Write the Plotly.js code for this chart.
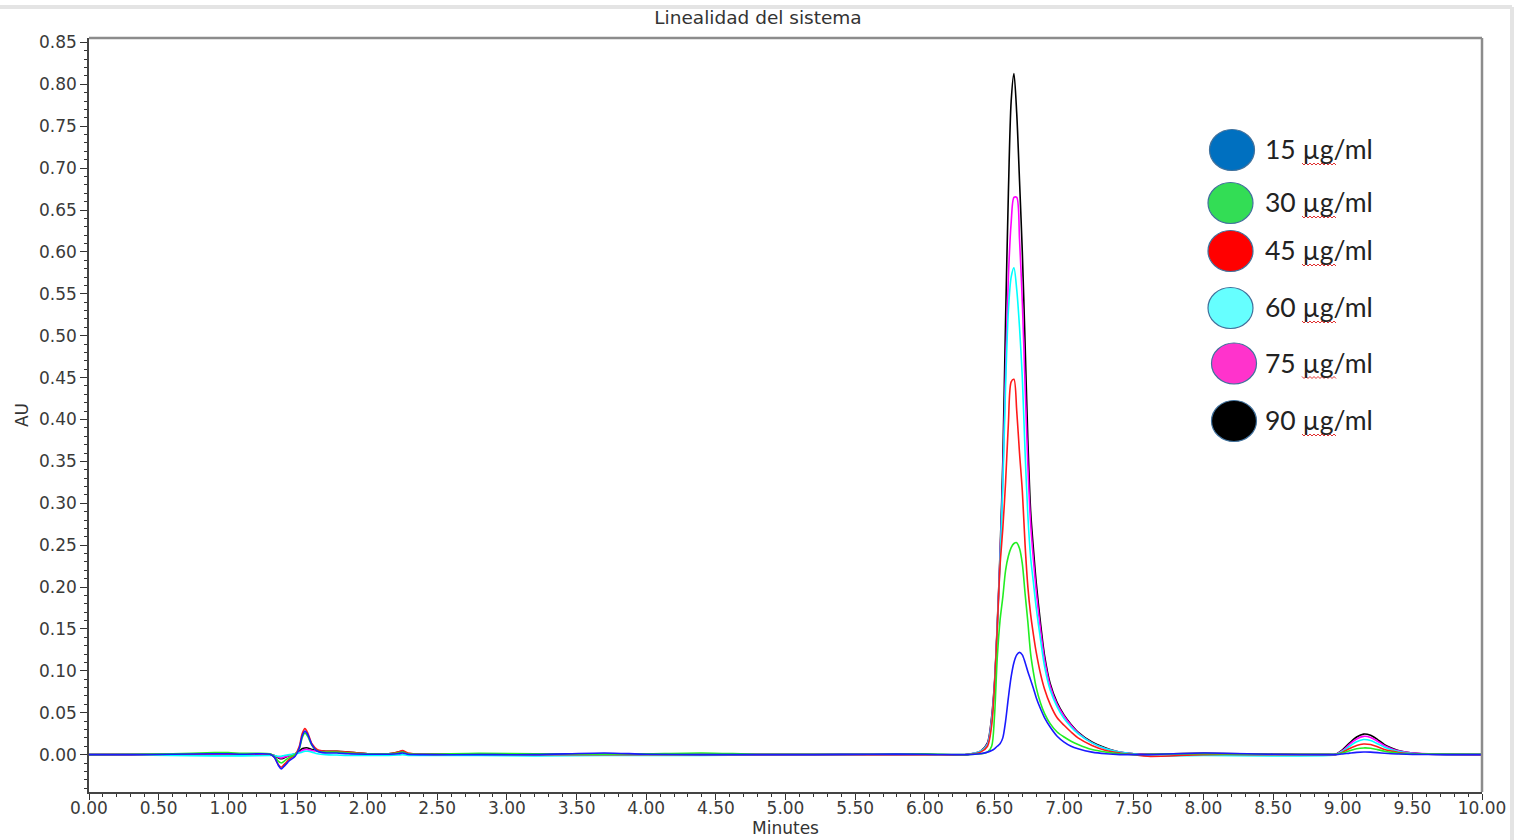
<!DOCTYPE html>
<html>
<head>
<meta charset="utf-8">
<script src="https://cdn.plot.ly/plotly-3.0.1.min.js"></script>
<style>
html,body{margin:0;padding:0;background:#fff;}
#chart{width:1527px;height:840px;}
</style>
</head>
<body>
<div id="chart"></div>
<script>
// ---- Data ----
const time = [
  0, 0.3, 0.6, 0.9, 1.0, 1.1, 1.3, 1.33, 1.36, 1.38, 1.40, 1.44, 1.48, 1.51, 1.53, 1.55, 1.57, 1.60, 1.64, 1.70, 1.78, 1.86, 2.0, 2.15, 2.22, 2.25, 2.29, 2.4, 2.8, 3.2, 3.7, 4.0, 4.4, 4.8, 5.2, 5.6, 6.0,
  6.30, 6.40, 6.45, 6.48, 6.50, 6.52, 6.54, 6.56, 6.58, 6.60, 6.62, 6.64, 6.66, 6.68, 6.70, 6.72, 6.74, 6.76, 6.78, 6.80, 6.83, 6.86, 6.90, 6.95, 7.00, 7.05, 7.10, 7.20, 7.30, 7.40, 7.50,
  7.6, 8.0, 8.5, 8.90, 8.95, 9.00, 9.05, 9.10, 9.15, 9.20, 9.25, 9.30, 9.35, 9.40, 9.50, 9.70, 10.0
];

const au15 = [
  0, 0, 0.0005, 0.001, 0.001, 0.0005, 0.0005, -0.003, -0.013, -0.017, -0.014, -0.007, -0.002, 0.008, 0.022, 0.028, 0.024, 0.012, 0.004, 0.002, 0.002, 0.001, 0.0005, 0.0005, 0.001, 0.002, 0.0005, 0, 0, 0, 0.002, 0.0005, 0, 0, 0, 0.0005, 0.0005,
  0, 0.001, 0.003, 0.005, 0.007, 0.010, 0.013, 0.020, 0.040, 0.068, 0.093, 0.110, 0.119, 0.122, 0.119, 0.110, 0.099, 0.089, 0.079, 0.068, 0.055, 0.044, 0.033, 0.022, 0.015, 0.010, 0.007, 0.003, 0.001, 0, 0,
  0, 0.002, 0.0005, 0, 0, 0.0008, 0.0018, 0.0027, 0.0031, 0.003, 0.0024, 0.0016, 0.001, 0.0007, 0.0003, 0, 0
];

const au30 = [
  0, 0.0005, 0.001, 0.0025, 0.0025, 0.0015, 0.001, -0.002, -0.008, -0.010, -0.008, -0.003, 0.000, 0.007, 0.020, 0.026, 0.022, 0.011, 0.004, 0.003, 0.003, 0.002, 0.001, 0.001, 0.002, 0.003, 0.001, 0.0005, 0.0015, 0.001, 0.0005, 0.001, 0.002, 0.0005, 0.0005, 0.0005, 0.001,
  0, 0.001, 0.003, 0.010, 0.045, 0.115, 0.160, 0.188, 0.220, 0.237, 0.247, 0.252, 0.253, 0.246, 0.228, 0.192, 0.158, 0.120, 0.098, 0.080, 0.062, 0.049, 0.037, 0.027, 0.021, 0.016, 0.012, 0.006, 0.003, 0.001, 0,
  0.0005, 0.001, 0.0005, 0.0005, 0.0005, 0.002, 0.0046, 0.007, 0.008, 0.0076, 0.006, 0.004, 0.0027, 0.0017, 0.001, 0.0008, 0.0005
];

const au45 = [
  0, 0, 0.0005, 0.001, 0.001, 0.0005, 0.0005, -0.003, -0.012, -0.015, -0.012, -0.005, 0.000, 0.010, 0.025, 0.031, 0.026, 0.013, 0.006, 0.004, 0.004, 0.003, 0.001, 0.001, 0.003, 0.005, 0.002, 0.0005, 0.0005, 0, 0, 0, 0, 0, 0, 0, 0,
  0, 0.003, 0.010, 0.035, 0.080, 0.150, 0.225, 0.270, 0.325, 0.395, 0.445, 0.448, 0.410, 0.360, 0.315, 0.250, 0.200, 0.167, 0.143, 0.122, 0.097, 0.078, 0.060, 0.044, 0.035, 0.027, 0.020, 0.011, 0.005, 0.002, 0,
  -0.002, 0, 0, 0, 0, 0.003, 0.0073, 0.011, 0.0127, 0.012, 0.0094, 0.0062, 0.0042, 0.0026, 0.001, 0.0003, 0
];

const au60 = [
  0, -0.0005, -0.001, -0.0015, -0.0015, -0.0015, -0.001, -0.001, -0.002, -0.002, -0.001, 0.000, 0.001, 0.002, 0.003, 0.004, 0.004, 0.003, 0.001, 0.000, -0.0005, -0.001, -0.001, -0.001, -0.0005, 0.000, -0.001, -0.001, -0.001, -0.0015, -0.001, -0.001, -0.001, -0.0005, -0.0005, 0, 0,
  0, 0.004, 0.012, 0.040, 0.080, 0.150, 0.230, 0.320, 0.440, 0.530, 0.570, 0.581, 0.555, 0.510, 0.450, 0.360, 0.285, 0.235, 0.205, 0.175, 0.138, 0.105, 0.077, 0.057, 0.043, 0.033, 0.025, 0.014, 0.007, 0.003, 0.001,
  -0.0015, -0.001, -0.0015, -0.001, 0, 0.004, 0.010, 0.0153, 0.018, 0.0168, 0.013, 0.0088, 0.0058, 0.0036, 0.0014, 0.0003, 0
];

const au75 = [
  0, 0, 0, 0.0005, 0.0005, 0.0005, 0, -0.001, -0.003, -0.004, -0.003, -0.001, 0.001, 0.003, 0.005, 0.006, 0.006, 0.005, 0.004, 0.003, 0.003, 0.002, 0.001, 0.001, 0.002, 0.003, 0.001, 0, 0, 0, 0, 0, 0, 0, 0, 0, 0,
  0, 0.004, 0.013, 0.042, 0.082, 0.152, 0.235, 0.330, 0.460, 0.570, 0.635, 0.665, 0.665, 0.615, 0.540, 0.440, 0.345, 0.275, 0.232, 0.195, 0.150, 0.113, 0.082, 0.060, 0.046, 0.035, 0.026, 0.014, 0.007, 0.003, 0.001,
  0.0005, 0.001, 0.0005, 0, 0.0005, 0.005, 0.0125, 0.0187, 0.0218, 0.0205, 0.016, 0.0107, 0.007, 0.0045, 0.0018, 0.0005, 0
];

const au90 = [
  0, 0, 0, 0.0005, 0.0005, 0.0005, 0.0005, -0.001, -0.004, -0.005, -0.004, -0.001, 0.001, 0.004, 0.007, 0.008, 0.008, 0.006, 0.005, 0.004, 0.004, 0.003, 0.001, 0.001, 0.003, 0.004, 0.001, 0.0005, 0.0005, 0, 0.0005, 0, 0, 0, 0, 0, 0,
  0, 0.004, 0.014, 0.045, 0.085, 0.155, 0.240, 0.350, 0.520, 0.670, 0.780, 0.813, 0.765, 0.685, 0.600, 0.490, 0.375, 0.290, 0.245, 0.205, 0.158, 0.118, 0.085, 0.062, 0.047, 0.036, 0.027, 0.015, 0.008, 0.003, 0.001,
  0.0005, 0.0015, 0.0005, 0, 0.0005, 0.006, 0.014, 0.021, 0.0245, 0.023, 0.018, 0.012, 0.008, 0.005, 0.002, 0.0005, 0
];

const seriesNames = ['15 µg/ml', '30 µg/ml', '45 µg/ml', '60 µg/ml', '75 µg/ml', '90 µg/ml'];
const seriesValues = [au15, au30, au45, au60, au75, au90];
const lineColors = ['#1a1aff', '#22ee22', '#ff1a1a', '#00ffff', '#ff00ff', '#000000'];
const legendFill = ['#0070c0', '#33dd55', '#ff0000', '#66ffff', '#ff33cc', '#000000'];

// ---- Layout geometry (pixels) ----
const W = 1527, H = 840;
const PL = 89, PR = 1482, PT = 38, PB = 792;
const px = x => (x - PL) / (PR - PL);
const py = y => (PB - y) / (PB - PT);

// draw highest concentration first so the low-concentration traces stay visible on the baseline
const drawOrder = [5, 4, 3, 2, 1, 0];
const traces = drawOrder.map(i => ({
  type: 'scatter',
  mode: 'lines',
  x: time,
  y: seriesValues[i],
  name: seriesNames[i],
  line: {color: lineColors[i], width: 1.6, shape: 'spline', smoothing: 0.8},
  showlegend: false,
  hoverinfo: 'x+y+name'
}));

// Custom legend: circles + labels
const legendCenters = [[1232, 150], [1230.5, 203], [1230.5, 251], [1230.5, 308], [1234, 363.5], [1234, 421]];
const shapes = [];
const annotations = [];
legendCenters.forEach((c, i) => {
  const rx = 22.5, ry = 20.5;
  shapes.push({
    type: 'circle', xref: 'paper', yref: 'paper',
    x0: px(c[0] - rx), x1: px(c[0] + rx), y0: py(c[1] + ry), y1: py(c[1] - ry),
    fillcolor: legendFill[i], line: {color: '#41719c', width: 1.2}, layer: 'above'
  });
  annotations.push({
    xref: 'paper', yref: 'paper', x: px(1263), y: py(c[1] - 1),
    xanchor: 'left', yanchor: 'middle', showarrow: false,
    text: seriesNames[i],
    font: {family: 'Lato, "Open Sans", sans-serif', size: 26.5, color: '#222222'}
  });
  // spell-check squiggle under the unit
  let d = '';
  const sx0 = 1302, sx1 = 1336, sy = c[1] + 14;
  for (let k = 0, xx = sx0; xx <= sx1; k++, xx += 2) {
    const yy = sy + (k % 2 === 0 ? -1 : 1);
    d += (k === 0 ? 'M ' : ' L ') + px(xx) + ',' + py(yy);
  }
  shapes.push({type: 'path', xref: 'paper', yref: 'paper', path: d, line: {color: '#e03030', width: 1}, layer: 'above'});
});

// Plot frame (top / right in gray) and outer screenshot border lines
shapes.push({type: 'line', xref: 'paper', yref: 'paper', x0: 0, x1: 1, y0: 1, y1: 1, line: {color: '#8c8c8c', width: 2.5}});
shapes.push({type: 'line', xref: 'paper', yref: 'paper', x0: 1, x1: 1, y0: 0, y1: 1, line: {color: '#8c8c8c', width: 2.5}});
shapes.push({type: 'line', xref: 'paper', yref: 'paper', x0: px(0), x1: px(1512), y0: py(7), y1: py(7), line: {color: '#e4e4e4', width: 4}});
shapes.push({type: 'line', xref: 'paper', yref: 'paper', x0: px(1512), x1: px(1512), y0: py(7), y1: py(840), line: {color: '#e4e4e4', width: 4}});

const tickFont = {family: '"DejaVu Sans", sans-serif', size: 17, color: '#3a3a3a'};

const layout = {
  width: W, height: H,
  margin: {l: PL, r: W - PR, t: PT, b: H - PB, pad: 0},
  paper_bgcolor: '#ffffff',
  plot_bgcolor: '#ffffff',
  title: {
    text: 'Linealidad del sistema',
    xref: 'container', yref: 'container',
    x: 758 / W, xanchor: 'center',
    y: 1 - 18 / H, yanchor: 'middle',
    font: {family: '"DejaVu Sans", sans-serif', size: 18.5, color: '#333333'}
  },
  xaxis: {
    range: [0, 10],
    dtick: 0.5, tick0: 0, tickformat: '.2f',
    ticks: 'outside', ticklen: 6, tickwidth: 1.2, tickcolor: '#333',
    minor: {dtick: 0.1, ticks: 'outside', ticklen: 3, tickwidth: 1, tickcolor: '#333'},
    showline: true, linecolor: '#444', linewidth: 1.5,
    showgrid: false, zeroline: false,
    tickfont: tickFont,
    ticklabelstandoff: -6,
    title: {text: 'Minutes', standoff: 0, font: {family: '"DejaVu Sans", sans-serif', size: 17, color: '#333'}}
  },
  yaxis: {
    range: [-0.0446, 0.8553],
    dtick: 0.05, tick0: 0, tickformat: '.2f',
    ticks: 'outside', ticklen: 7, tickwidth: 1.2, tickcolor: '#333',
    minor: {dtick: 0.01, ticks: 'outside', ticklen: 3, tickwidth: 1, tickcolor: '#333'},
    showline: true, linecolor: '#444', linewidth: 1.5,
    showgrid: false, zeroline: false,
    tickfont: tickFont,
    title: {text: 'AU', standoff: 6, font: {family: '"DejaVu Sans", sans-serif', size: 17, color: '#333'}}
  },
  shapes: shapes,
  annotations: annotations,
  showlegend: false
};

Plotly.newPlot('chart', traces, layout, {displayModeBar: false, responsive: false});
</script>
</body>
</html>
